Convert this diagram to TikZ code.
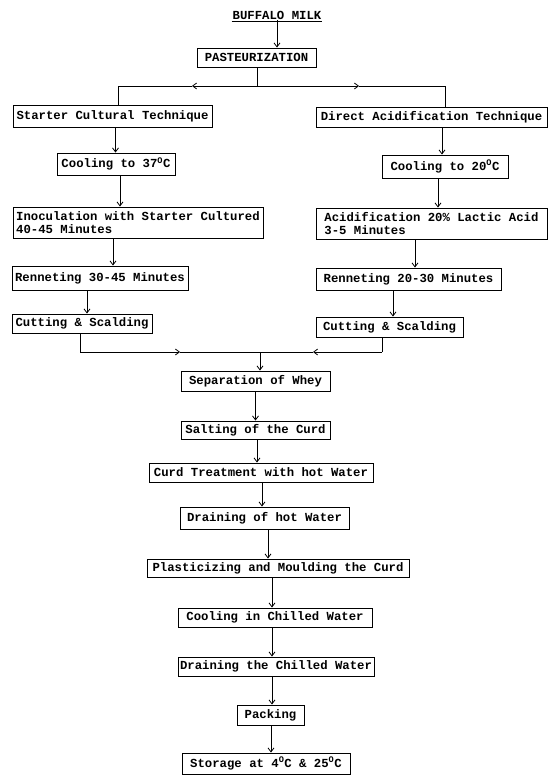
\documentclass[tikz,border=0pt]{standalone}
\usepackage{fontspec}
\setmonofont{Liberation Mono}
\usetikzlibrary{arrows.meta}
\tikzset{
  box/.style={draw, line width=0.9pt, inner xsep=2pt, inner ysep=0pt, align=left,
    font=\ttfamily\bfseries\fontsize{12.3}{13}\selectfont},
  arr/.style={line width=0.8pt, -{Straight Barb[length=4pt,width=6pt]}},
  ln/.style={line width=0.8pt}
}
\newcommand{\dg}{\textsuperscript{O}}
\begin{document}
\begin{tikzpicture}[x=1pt,y=-1pt]
\useasboundingbox (0,0) rectangle (547,775);
% title
\node[font=\ttfamily\bfseries\fontsize{12.3}{13}\selectfont, inner sep=1pt] (milk) at (277,15) {BUFFALO MILK};
\draw[ln] ([yshift=-1pt]milk.south west) -- ([yshift=-1pt]milk.south east);
\node[box, minimum width=119pt, minimum height=19pt] (past) at (256.5,57.5) {PASTEURIZATION};
% left branch
\node[box, minimum width=199pt, minimum height=22pt] (starter) at (112.5,116) {Starter Cultural Technique};
\node[box, minimum width=118pt, minimum height=22pt] (cool37) at (116,164) {Cooling to 37\dg C};
\node[box, minimum width=250pt, minimum height=31pt] (inoc) at (138,222.5) {Inoculation with Starter Cultured\\40-45 Minutes};
\node[box, minimum width=176pt, minimum height=24pt] (ren1) at (100,278) {Renneting 30-45 Minutes};
\node[box, minimum width=140pt, minimum height=19pt] (cut1) at (82,323.5) {Cutting \& Scalding};
% right branch
\node[box, minimum width=231pt, minimum height=20pt] (direct) at (431.5,117) {Direct Acidification Technique};
\node[box, minimum width=126pt, minimum height=23pt] (cool20) at (445,166.5) {Cooling to 20\dg C};
\node[box, minimum width=231pt, minimum height=31pt] (acid) at (431.5,223.5) {Acidification 20\% Lactic Acid\\3-5 Minutes};
\node[box, minimum width=185pt, minimum height=22pt] (ren2) at (408.5,279) {Renneting 20-30 Minutes};
\node[box, minimum width=147pt, minimum height=20pt] (cut2) at (389.5,327) {Cutting \& Scalding};
% common
\node[box, minimum width=149pt, minimum height=20pt] (sep) at (255.5,381) {Separation of Whey};
\node[box, minimum width=149pt, minimum height=18pt] (salt) at (255.5,430) {Salting of the Curd};
\node[box, minimum width=224pt, minimum height=19pt] (curd) at (261,472.5) {Curd Treatment with hot Water};
\node[box, minimum width=169pt, minimum height=22pt] (drain1) at (264.5,518) {Draining of hot Water};
\node[box, minimum width=262pt, minimum height=18pt] (plast) at (278,568) {Plasticizing and Moulding the Curd};
\node[box, minimum width=194pt, minimum height=19pt] (coolc) at (275,617.5) {Cooling in Chilled Water};
\node[box, minimum width=192pt, minimum height=19pt] (drain2) at (276,666.5) {Draining the Chilled Water};
\node[box, minimum width=67pt, minimum height=20pt] (pack) at (270.5,715) {Packing};
\node[box, minimum width=168pt, minimum height=21pt] (store) at (266,763.5) {Storage at 4\dg C \& 25\dg C};
% coordinates
\coordinate (split) at (257,86);
\coordinate (cl) at (118,86);
\coordinate (cr) at (445,86);
\coordinate (ml) at (192,86);
\coordinate (mr) at (359,86);
\coordinate (jl) at (80,352);
\coordinate (jr) at (382,352);
\coordinate (jm) at (260,352);
\coordinate (a1) at (180,352);
\coordinate (a2) at (313,352);
% connectors
\draw[arr] (milk.south) -- (milk.south |- past.north);
\draw[ln] ([xshift=0.5pt]past.south) -- ([xshift=0.5pt]past.south |- split);
\draw[arr] (split) -- (ml);
\draw[ln] (ml) -- (cl) -- (cl |- starter.north);
\draw[arr] (split) -- (mr);
\draw[ln] (mr) -- (cr) -- (cr |- direct.north);
\draw[arr] ([xshift=3pt]starter.south) -- ([xshift=3pt]starter.south |- cool37.north);
\draw[arr] ([xshift=4pt]cool37.south) -- ([xshift=4pt]cool37.south |- inoc.north);
\draw[arr] ([xshift=-25pt]inoc.south) -- ([xshift=-25pt]inoc.south |- ren1.north);
\draw[arr] ([xshift=-13pt]ren1.south) -- ([xshift=-13pt]ren1.south |- cut1.north);
\draw[arr] ([xshift=10.5pt]direct.south) -- ([xshift=10.5pt]direct.south |- cool20.north);
\draw[arr] ([xshift=-7pt]cool20.south) -- ([xshift=-7pt]cool20.south |- acid.north);
\draw[arr] ([xshift=-16.5pt]acid.south) -- ([xshift=-16.5pt]acid.south |- ren2.north);
\draw[arr] ([xshift=-15.5pt]ren2.south) -- ([xshift=-15.5pt]ren2.south |- cut2.north);
\draw[ln] (cut1.south -| jl) -- (jl);
\draw[arr] (jl) -- (a1);
\draw[ln] (a1) -- (jm);
\draw[ln] (cut2.south -| jr) -- (jr);
\draw[arr] (jr) -- (a2);
\draw[ln] (a2) -- (jm);
\draw[arr] (jm) -- (jm |- sep.north);
\draw[arr] (sep.south) -- (sep.south |- salt.north);
\draw[arr] ([xshift=1.5pt]salt.south) -- ([xshift=1.5pt]salt.south |- curd.north);
\draw[arr] ([xshift=1pt]curd.south) -- ([xshift=1pt]curd.south |- drain1.north);
\draw[arr] ([xshift=3.5pt]drain1.south) -- ([xshift=3.5pt]drain1.south |- plast.north);
\draw[arr] ([xshift=-6pt]plast.south) -- ([xshift=-6pt]plast.south |- coolc.north);
\draw[arr] ([xshift=-3pt]coolc.south) -- ([xshift=-3pt]coolc.south |- drain2.north);
\draw[arr] ([xshift=-4pt]drain2.south) -- ([xshift=-4pt]drain2.south |- pack.north);
\draw[arr] ([xshift=0.5pt]pack.south) -- ([xshift=0.5pt]pack.south |- store.north);
\end{tikzpicture}
\end{document}
